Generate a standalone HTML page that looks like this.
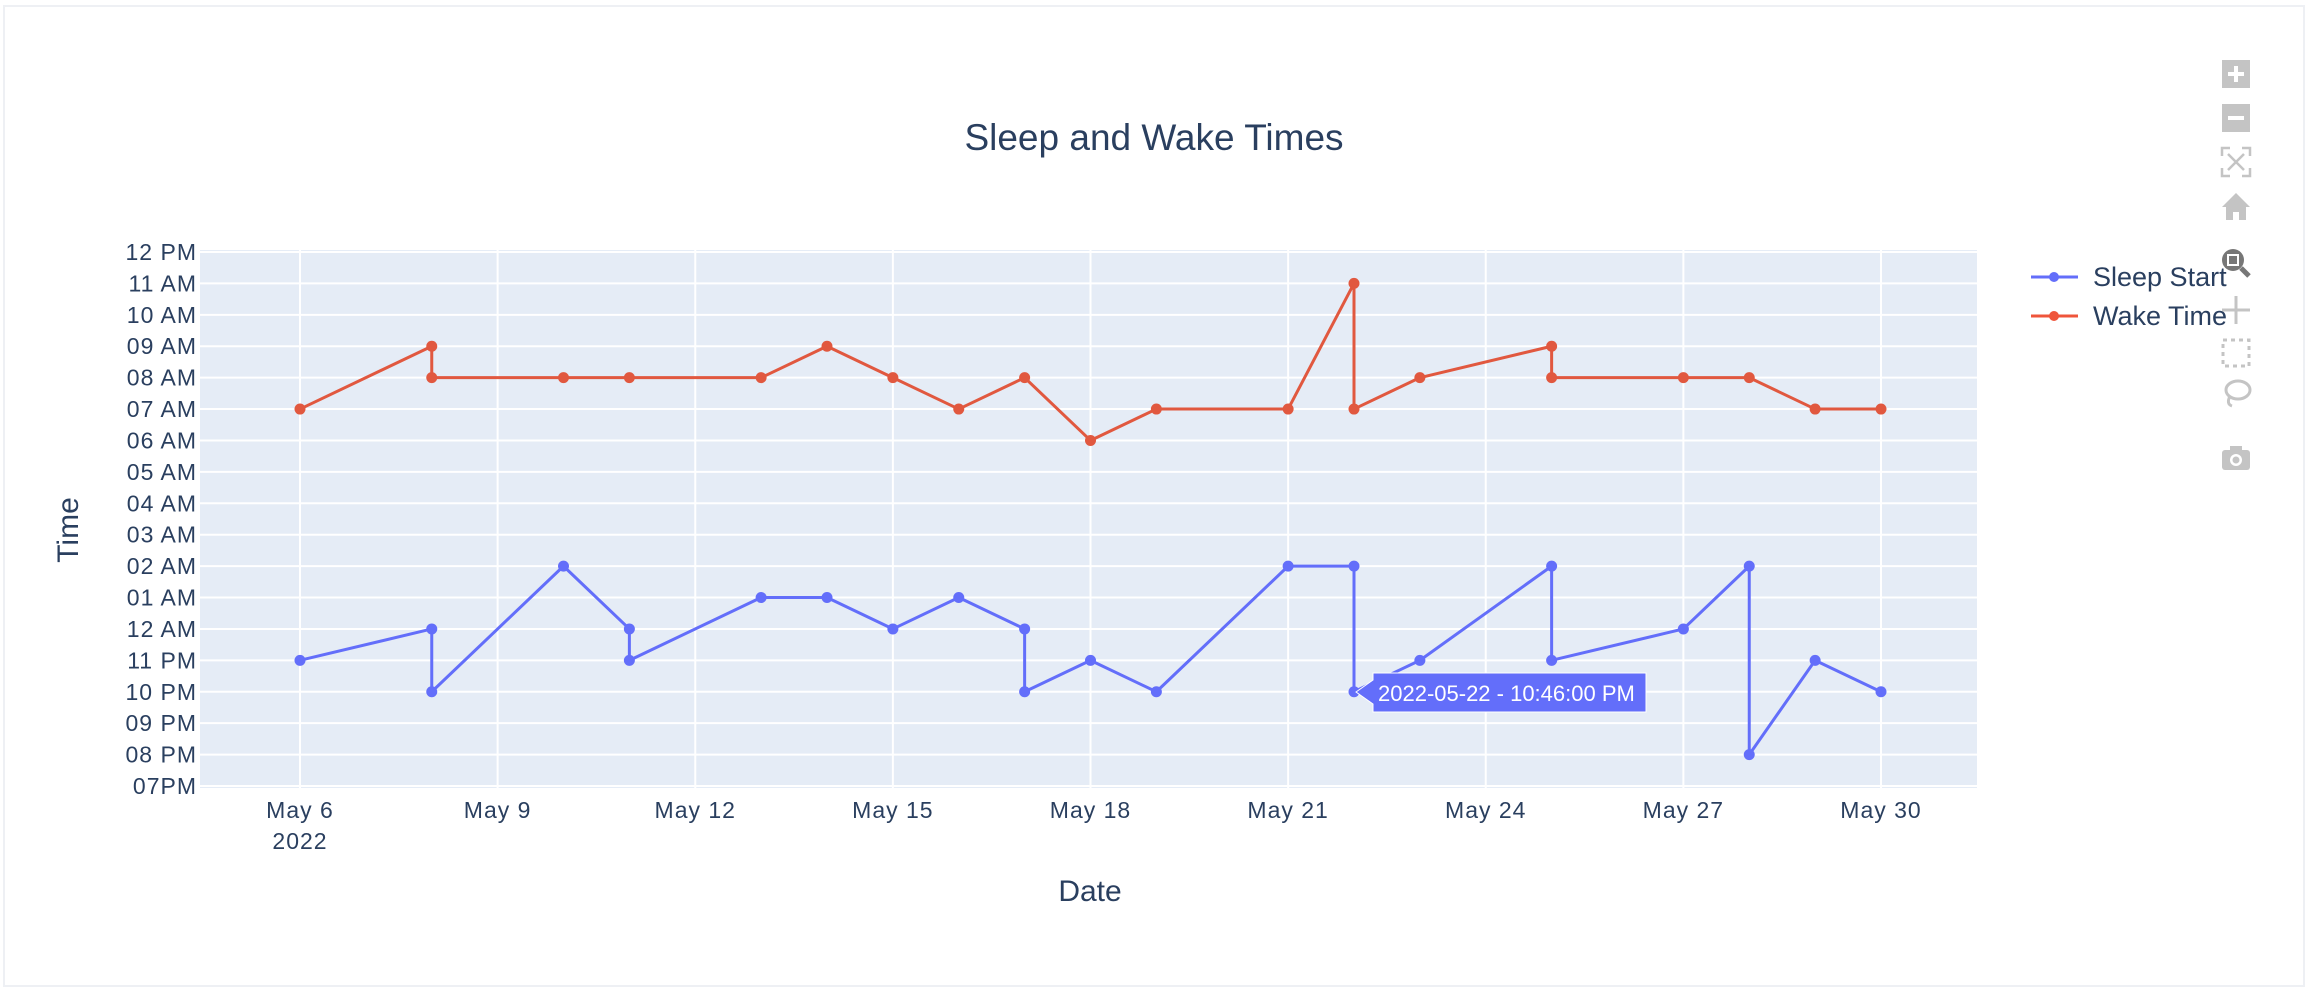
<!DOCTYPE html>
<html><head><meta charset="utf-8">
<style>
html,body{margin:0;padding:0;background:#fff;}
body{width:2308px;height:988px;overflow:hidden;font-family:"Liberation Sans",sans-serif;}
</style></head>
<body>
<svg id="chart" width="2308" height="988" xmlns="http://www.w3.org/2000/svg" font-family="Liberation Sans, sans-serif">
<rect x="4" y="6" width="2300" height="980" fill="#fff" stroke="#eef0f4" stroke-width="2"/>
<text x="1154" y="150" text-anchor="middle" font-size="37" fill="#2a3f5f">Sleep and Wake Times</text>
<rect x="200" y="250" width="1777" height="538" fill="#e5ecf6"/>
<g id="grid"></g>
<g id="yticks"></g>
<g id="xticks"></g>
<g id="series"></g>
<text x="1090" y="901" text-anchor="middle" font-size="30" fill="#2a3f5f">Date</text>
<text x="0" y="0" transform="translate(78,530) rotate(-90)" text-anchor="middle" font-size="30" fill="#2a3f5f">Time</text>
<g>
<g>
<line x1="2031" y1="277" x2="2078" y2="277" stroke="#636efa" stroke-width="3"/><circle cx="2054" cy="277" r="5" fill="#636efa"/>
<text x="2093" y="286" font-size="27" fill="#2a3f5f">Sleep Start</text></g>
<g>
<line x1="2031" y1="316" x2="2078" y2="316" stroke="#ef553b" stroke-width="3"/><circle cx="2054" cy="316" r="5" fill="#ef553b"/>
<text x="2093" y="325" font-size="27" fill="#2a3f5f">Wake Time</text></g>
</g>
<g>
<path d="M1356,692 L1373,680 L1373,673 L1646,673 L1646,712 L1373,712 L1373,704 Z" fill="#636efa" stroke="#fff" stroke-width="1"/>
<text x="1378" y="701" font-size="22" fill="#fff">2022-05-22 - 10:46:00 PM</text></g>
<g fill="#c4c4c4">
<g><rect x="2222" y="60" width="28" height="28"/><rect x="2228" y="72" width="16" height="4" fill="#fff"/><rect x="2234" y="66" width="4" height="16" fill="#fff"/></g>
<g><rect x="2222" y="104" width="28" height="28"/><rect x="2228" y="116" width="16" height="4" fill="#fff"/></g>
<g stroke="#c4c4c4" stroke-width="2.5" fill="none"><path d="M2222,156 v-8 h8 M2242,148 h8 v8 M2250,168 v8 h-8 M2230,176 h-8 v-8 M2228,154 l16,16 M2244,154 l-16,16"/></g>
<g><path d="M2236,193 L2222,207 L2226,207 L2226,220 L2233,220 L2233,212 L2239,212 L2239,220 L2246,220 L2246,207 L2250,207 Z"/></g>
<g><circle cx="2233" cy="260" r="11" fill="#777"/><rect x="2227" y="254" width="12" height="12" fill="#fff"/><rect x="2229" y="256" width="8" height="8" fill="#777"/><line x1="2241" y1="268" x2="2249" y2="276" stroke="#777" stroke-width="5"/></g>
<g stroke="#c4c4c4" stroke-width="3"><line x1="2236" y1="296" x2="2236" y2="324"/><line x1="2222" y1="310" x2="2250" y2="310"/></g>
<g fill="none" stroke="#c4c4c4" stroke-width="3" stroke-dasharray="4 4"><rect x="2223" y="340" width="26" height="26"/></g>
<g fill="none" stroke="#c4c4c4" stroke-width="3"><ellipse cx="2238" cy="390" rx="12" ry="9"/><path d="M2230,396 q-4,8 2,10"/></g>
<g><rect x="2222" y="450" width="28" height="20" rx="3"/><rect x="2230" y="446" width="12" height="6"/><circle cx="2236" cy="460" r="6" fill="#fff"/><circle cx="2236" cy="460" r="3.5"/></g>
</g>
</svg>
<script>
const sleepDates = ["2022-05-06","2022-05-08","2022-05-08","2022-05-10","2022-05-11","2022-05-11","2022-05-13","2022-05-14","2022-05-15","2022-05-16","2022-05-17","2022-05-17","2022-05-18","2022-05-19","2022-05-21","2022-05-22","2022-05-22","2022-05-23","2022-05-25","2022-05-25","2022-05-27","2022-05-28","2022-05-28","2022-05-29","2022-05-30"];
const sleepHours = [23,24,22,26,24,23,25,25,24,25,24,22,23,22,26,26,22,23,26,23,24,26,20,23,22];
const wakeDates = ["2022-05-06","2022-05-08","2022-05-08","2022-05-10","2022-05-11","2022-05-13","2022-05-14","2022-05-15","2022-05-16","2022-05-17","2022-05-18","2022-05-19","2022-05-21","2022-05-22","2022-05-22","2022-05-23","2022-05-25","2022-05-25","2022-05-27","2022-05-28","2022-05-29","2022-05-30"];
const wakeHours = [31,33,32,32,32,32,33,32,31,32,30,31,31,35,31,32,33,32,32,32,31,31];
const yTickLabels = ["07PM","08 PM","09 PM","10 PM","11 PM","12 AM","01 AM","02 AM","03 AM","04 AM","05 AM","06 AM","07 AM","08 AM","09 AM","10 AM","11 AM","12 PM"];
const yTickValues = [19,20,21,22,23,24,25,26,27,28,29,30,31,32,33,34,35,36];
const xTickDates = ["2022-05-06","2022-05-09","2022-05-12","2022-05-15","2022-05-18","2022-05-21","2022-05-24","2022-05-27","2022-05-30"];
const xTickLabels = ["May 6","May 9","May 12","May 15","May 18","May 21","May 24","May 27","May 30"];

const NS="http://www.w3.org/2000/svg";
const L=200,R=1977,T=250,B=788;
const X0=300, DAY=65.875, base=Date.UTC(2022,4,6);
function dayOf(s){const p=s.split("-");return (Date.UTC(+p[0],+p[1]-1,+p[2])-base)/86400000;}
function xs(s){return X0+dayOf(s)*DAY;}
const yMin=19,yMax=36, yTop=252, yBot=786;
function ys(v){return yBot-(v-yMin)/(yMax-yMin)*(yBot-yTop);}
function mk(tag,attrs,parent){const e=document.createElementNS(NS,tag);for(const k in attrs)e.setAttribute(k,attrs[k]);parent.appendChild(e);return e;}
const grid=document.getElementById("grid"),yt=document.getElementById("yticks"),xt=document.getElementById("xticks"),ser=document.getElementById("series");
yTickValues.forEach((v,i)=>{
  const y=ys(v);
  const g=mk("line",{x1:L,x2:R,y1:y,y2:y,stroke:"#fff","stroke-width":2},grid);
  
  
  const t=mk("text",{x:L-3,y:y+8,"text-anchor":"end","font-size":23,"letter-spacing":"1",fill:"#2a3f5f"},yt);
  t.textContent=yTickLabels[i];
  
  
});
xTickDates.forEach((d,i)=>{
  const x=xs(d);
  const g=mk("line",{x1:x,x2:x,y1:T,y2:B,stroke:"#fff","stroke-width":2},grid);
  
  
  const t=mk("text",{x:x,y:818,"text-anchor":"middle","font-size":23,"letter-spacing":"1",fill:"#2a3f5f"},xt);
  t.textContent=xTickLabels[i];
  
  
  if(i===0){const t2=mk("text",{x:x,y:849,"text-anchor":"middle","font-size":23,"letter-spacing":"1",fill:"#2a3f5f"},xt);t2.textContent="2022";
  
  }
});
function drawSeries(dates,vals,color,name){
  const g=mk("g",{},ser);
  
  
  const pts=dates.map((d,i)=>xs(d)+","+ys(vals[i])).join(" ");
  const pl=mk("polyline",{points:pts,fill:"none",stroke:color,"stroke-width":3,"stroke-linejoin":"round"},g);
  
  
  dates.forEach((d,i)=>{
    const c=mk("circle",{cx:xs(d),cy:ys(vals[i]),r:5.5,fill:color},g);
    
    
  });
}
drawSeries(sleepDates,sleepHours,"#636efa","sleep-start");
drawSeries(wakeDates,wakeHours,"#e1583f","wake-time");
</script>
</body></html>
